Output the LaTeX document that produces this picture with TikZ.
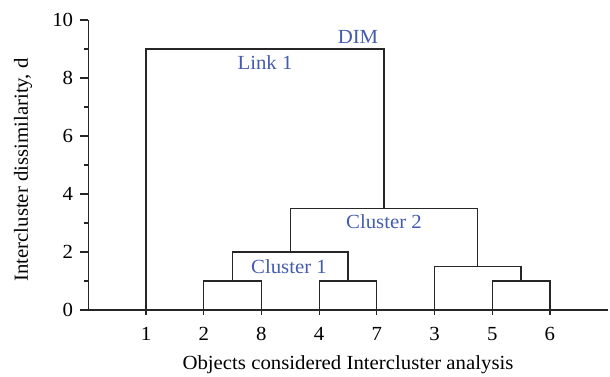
\documentclass[tikz,border=0pt]{standalone}
\usepackage{fontspec}
\setmainfont[FakeStretch=1.04]{Liberation Serif}
\definecolor{lblblue}{RGB}{68,92,172}
\begin{document}
\begin{tikzpicture}[x=1pt,y=1pt,
  axis/.style={line width=1.2pt,black!85},
  dend/.style={line width=1.2pt,black!85},
  txt/.style={font=\fontsize{20}{22}\selectfont,inner sep=0pt},
  lbl/.style={txt,text=lblblue}]
\useasboundingbox (0,0) rectangle (610,376);
\begin{scope}[x=57.7pt,y=29pt,shift={(88.3pt,66pt)}]
  % axes
  \coordinate (o) at (0,0);
  \coordinate (ytop) at (0,10);
  \coordinate (xend) at (9,0);
  \draw[axis] (ytop) -- (o) -- (xend);
  \foreach \v in {0,2,...,10} {
    \draw[axis] (0,\v) -- ++(-8pt,0);
    \node[txt,anchor=east] (yl\v) at ([xshift=-15pt]0,\v) {\v};
  }
  \foreach \v in {1,3,...,9} \draw[axis] (0,\v) -- ++(-4pt,0);
  % leaves
  \foreach \p/\n in {1/1,2/2,3/8,4/4,5/7,6/3,7/5,8/6} {
    \coordinate (L\n) at (\p,0);
    \draw[axis] (L\n) -- ++(0,-5pt);
    \node[txt] (t\n) at ([yshift=-24pt]\p,0) {\n};
  }
  % joins
  \coordinate (a28l) at (2,1);   \coordinate (a28r) at (3,1);
  \coordinate (a47l) at (4,1);   \coordinate (a47r) at (5,1);
  \coordinate (a56l) at (7,1);   \coordinate (a56r) at (8,1);
  \coordinate (c1l) at (2.5,2);  \coordinate (c1r) at (4.5,2);
  \coordinate (a3l) at (6,1.5);  \coordinate (a3r) at (7.5,1.5);
  \coordinate (c2l) at (3.5,3.5);\coordinate (c2r) at (6.75,3.5);
  \coordinate (topl) at (1,9);   \coordinate (topr) at (5.125,9);
  \draw[dend] (L2) -- (a28l) -- (a28r) -- (L8);
  \draw[dend] (L4) -- (a47l) -- (a47r) -- (L7);
  \draw[dend] (L5) -- (a56l) -- (a56r) -- (L6);
  \draw[dend] (2.5,1) -- (c1l) -- (c1r) -- (4.5,1);
  \draw[dend] (L3) -- (a3l) -- (a3r) -- (7.5,1);
  \draw[dend] (3.5,2) -- (c2l) -- (c2r) -- (6.75,1.5);
  \draw[dend] (L1) -- (topl) -- (topr) -- (5.125,3.5);
\end{scope}
% labels
\node[lbl] (dim) at (358,339) {DIM};
\node[lbl] (link) at (265,313) {Link 1};
\node[lbl] (cl2) at (384,154) {Cluster 2};
\node[lbl] (cl1) at (289,109) {Cluster 1};
\node[txt] (xt) at (348,11) {Objects considered Intercluster analysis};
\node[txt,rotate=90] (yt) at (23,206) {Intercluster dissimilarity, d};
\end{tikzpicture}
\end{document}
